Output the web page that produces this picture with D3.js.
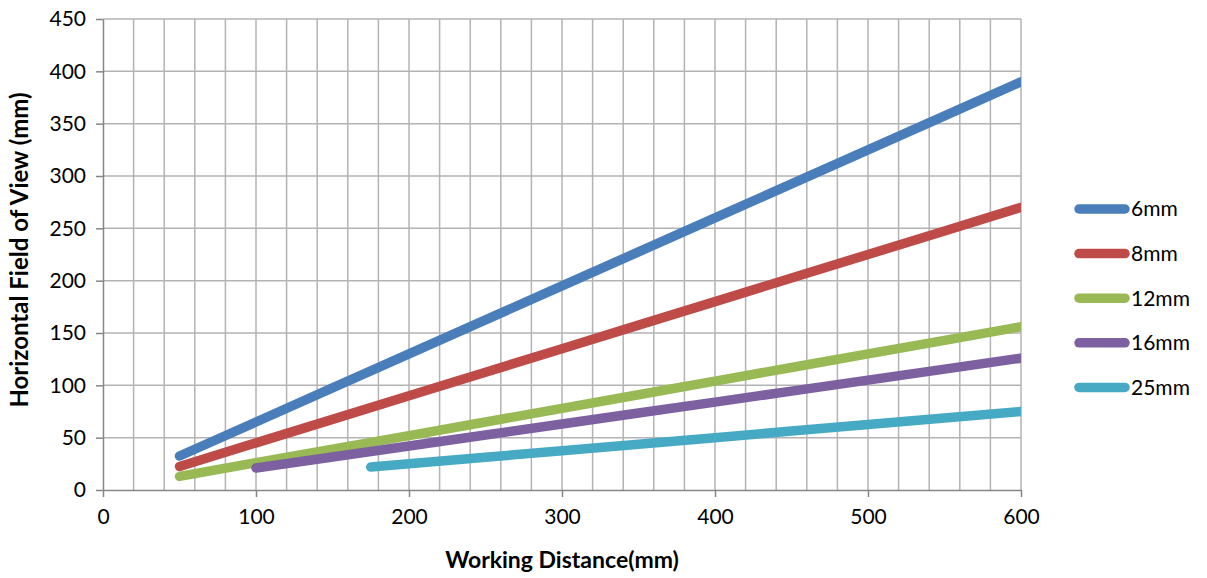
<!DOCTYPE html>
<html>
<head>
<meta charset="utf-8">
<script src="https://cdn.jsdelivr.net/npm/d3@7"></script>
<style>
  body { margin: 0; background: #fff; }
  text { font-family: Lato, "Open Sans", sans-serif; }
</style>
</head>
<body>
<div id="vis"></div>
<script>
// working distance (mm) points for each lens
var seriesNames = ["6mm", "8mm", "12mm", "16mm", "25mm"];
var colors = ["#4a7ebb", "#be4b48", "#98b954", "#7d60a0", "#46aac5"];

var wd6  = [50, 100, 150, 200, 250, 300, 350, 400, 450, 500, 550, 600];
var fov6 = [32.5, 65, 97.5, 130, 162.5, 195, 227.5, 260, 292.5, 325, 357.5, 390];

var wd8  = [50, 100, 150, 200, 250, 300, 350, 400, 450, 500, 550, 600];
var fov8 = [22.5, 45, 67.5, 90, 112.5, 135, 157.5, 180, 202.5, 225, 247.5, 270];

var wd12  = [50, 100, 150, 200, 250, 300, 350, 400, 450, 500, 550, 600];
var fov12 = [13, 26, 39, 52, 65, 78, 91, 104, 117, 130, 143, 156];

var wd16  = [100, 150, 200, 250, 300, 350, 400, 450, 500, 550, 600];
var fov16 = [21, 31.5, 42, 52.5, 63, 73.5, 84, 94.5, 105, 115.5, 126];

var wd25  = [175, 200, 250, 300, 350, 400, 450, 500, 550, 600];
var fov25 = [21.9, 25, 31.3, 37.5, 43.8, 50, 56.3, 62.5, 68.8, 75];

var xTicks = [0, 100, 200, 300, 400, 500, 600];
var yTicks = [0, 50, 100, 150, 200, 250, 300, 350, 400, 450];

var allWd = [wd6, wd8, wd12, wd16, wd25];
var allFov = [fov6, fov8, fov12, fov16, fov25];

var width = 1207, height = 578;
var plotLeft = 103, plotRight = 1021, plotTop = 19, plotBottom = 490;

var svg = d3.select("#vis").append("svg")
    .attr("width", width)
    .attr("height", height);

var x = d3.scaleLinear().domain([0, 600]).range([plotLeft, plotRight]);
var y = d3.scaleLinear().domain([0, 450]).range([plotBottom, plotTop]);

// grid: vertical every 20, horizontal every 50
svg.append("g")
  .selectAll("line")
  .data(d3.range(20, 601, 20))
  .enter().append("line")
    .attr("x1", function(d) { return x(d); })
    .attr("x2", function(d) { return x(d); })
    .attr("y1", plotTop)
    .attr("y2", plotBottom)
    .attr("stroke", "#b3b3b3")
    .attr("stroke-width", 1.5);

svg.append("g")
  .selectAll("line")
  .data(yTicks.slice(1))
  .enter().append("line")
    .attr("x1", plotLeft)
    .attr("x2", plotRight)
    .attr("y1", function(d) { return y(d); })
    .attr("y2", function(d) { return y(d); })
    .attr("stroke", "#b3b3b3")
    .attr("stroke-width", 1.5);

// axes
var xAxis = svg.append("g")
    .attr("transform", "translate(0," + plotBottom + ")")
    .call(d3.axisBottom(x).tickValues(xTicks).tickSize(7).tickPadding(12).tickSizeOuter(0));

var yAxis = svg.append("g")
    .attr("transform", "translate(" + plotLeft + ",0)")
    .call(d3.axisLeft(y).tickValues(yTicks).tickSize(7).tickPadding(10).tickSizeOuter(0));

[xAxis, yAxis].forEach(function(a) {
  a.select(".domain").attr("stroke", "#868686").attr("stroke-width", 1.5);
  a.selectAll(".tick line").attr("stroke", "#868686").attr("stroke-width", 1.5);
  a.selectAll(".tick text")
    .attr("fill", "#000")
    .style("font-size", "21px")
    .style("font-family", "Lato, 'Open Sans', sans-serif");
});

// clip lines to the plot area
svg.append("defs").append("clipPath")
    .attr("id", "plot")
  .append("rect")
    .attr("x", plotLeft - 20)
    .attr("y", plotTop)
    .attr("width", plotRight - plotLeft + 20)
    .attr("height", plotBottom - plotTop + 20);

var line = d3.line()
    .x(function(d) { return x(d[0]); })
    .y(function(d) { return y(d[1]); });

var series = seriesNames.map(function(name, i) {
  return { name: name, color: colors[i], pts: d3.zip(allWd[i], allFov[i]) };
});

svg.append("g")
    .attr("clip-path", "url(#plot)")
  .selectAll("path")
  .data(series)
  .enter().append("path")
    .attr("d", function(d) { return line(d.pts); })
    .attr("fill", "none")
    .attr("stroke", function(d) { return d.color; })
    .attr("stroke-width", 9.5)
    .attr("stroke-linecap", "round");

// legend
var legend = svg.append("g")
  .selectAll("g")
  .data(series)
  .enter().append("g")
    .attr("transform", function(d, i) { return "translate(1079," + (209 + i * 44.6) + ")"; });

legend.append("line")
    .attr("x1", 0).attr("x2", 46)
    .attr("stroke", function(d) { return d.color; })
    .attr("stroke-width", 9.5)
    .attr("stroke-linecap", "round");

legend.append("text")
    .attr("x", 52)
    .attr("dy", "0.35em")
    .style("font-size", "21px")
    .text(function(d) { return d.name; });

// axis titles
svg.append("text")
    .attr("x", 562)
    .attr("y", 568)
    .attr("text-anchor", "middle")
    .style("font-size", "23px")
    .style("font-weight", "bold")
    .text("Working Distance(mm)");

svg.append("text")
    .attr("transform", "translate(28," + 250 + ") rotate(-90)")
    .attr("text-anchor", "middle")
    .style("font-size", "24px")
    .style("font-weight", "bold")
    .text("Horizontal Field of View (mm)");
</script>
</body>
</html>
